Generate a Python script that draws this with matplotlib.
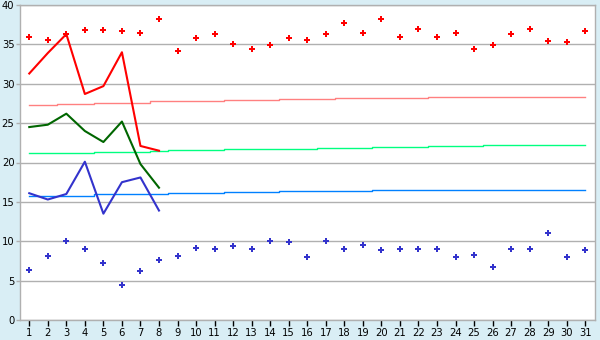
import numpy as np
import matplotlib.pyplot as plt

# Data
days = list(range(1, 32))

max_daily = [35.9, 35.5, 36.3, 36.8, 36.8, 36.7, 36.4, 38.2, 34.1, 35.8,
             36.3, 35.0, 34.4, 34.9, 35.8, 35.6, 36.3, 37.7, 36.5, 38.2,
             36.0, 36.9, 36.0, 36.5, 34.4, 34.9, 36.3, 36.9, 35.4, 35.3, 36.7]
min_daily = [6.3, 8.1, 10.0, 9.0, 7.3, 4.4, 6.2, 7.6, 8.1, 9.2,
             9.0, 9.4, 9.0, 10.0, 9.9, 8.0, 10.0, 9.0, 9.5, 8.85,
             9.0, 9.0, 9.0, 8.0, 8.2, 6.7, 9.0, 9.0, 11.0, 8.0, 8.85]

cur_days = [1, 2, 3, 4, 5, 6, 7, 8]
cur_max = [31.3, 33.9, 36.3, 28.7, 29.7, 34.0, 22.1, 21.5]
cur_mean = [24.5, 24.8, 26.2, 24.0, 22.6, 25.2, 19.8, 16.8]
cur_min = [16.1, 15.3, 16.0, 20.1, 13.5, 17.5, 18.1, 13.9]

normal_max = [27.25, 27.25, 27.38, 27.38, 27.5, 27.5, 27.5, 27.75, 27.75, 27.75,
              27.75, 27.9, 27.9, 27.9, 28.03, 28.03, 28.03, 28.15, 28.15, 28.15,
              28.15, 28.15, 28.28, 28.28, 28.28, 28.28, 28.28, 28.28, 28.28, 28.28, 28.28]
normal_mean = [21.17, 21.17, 21.17, 21.17, 21.3, 21.3, 21.3, 21.42, 21.55, 21.55,
               21.55, 21.68, 21.68, 21.68, 21.68, 21.68, 21.8, 21.8, 21.8, 21.93,
               21.93, 21.93, 22.06, 22.06, 22.06, 22.18, 22.18, 22.18, 22.18, 22.18, 22.18]
normal_min = [15.78, 15.78, 15.78, 15.78, 15.96, 15.96, 15.96, 15.96, 16.09, 16.09,
              16.09, 16.22, 16.22, 16.22, 16.34, 16.34, 16.34, 16.34, 16.34, 16.47,
              16.47, 16.47, 16.47, 16.47, 16.47, 16.47, 16.47, 16.47, 16.47, 16.47, 16.47]

bg = '#D9EEF5'
grid_c = '#B0B0B0'

fig = plt.figure(figsize=(6, 3.4), dpi=100, facecolor=bg)
ax = fig.add_axes([20 / 600, 1 - 320 / 340, 574.5 / 600, 315 / 340])
ax.set_facecolor('white')

# normals (step lines)
ax.plot(days, normal_max, color='#FF8080', lw=1.0, drawstyle='steps-mid', zorder=2)
ax.plot(days, normal_mean, color='#00FF80', lw=1.0, drawstyle='steps-mid', zorder=2)
ax.plot(days, normal_min, color='#0080FF', lw=1.0, drawstyle='steps-mid', zorder=2)

# current month
ax.plot(cur_days, cur_max, color='#FF0000', lw=1.5, zorder=3)
ax.plot(cur_days, cur_mean, color='#006600', lw=1.5, zorder=3)
ax.plot(cur_days, cur_min, color='#3333CC', lw=1.5, zorder=3)

# extremes
ax.plot(days, max_daily, ls='none', marker='P', ms=4.5, color='#FF0000', mew=0, zorder=4)
ax.plot(days, min_daily, ls='none', marker='P', ms=4.2, color='#3333CC', mew=0, zorder=4)

ax.set_xlim(0.5, 31.5)
ax.set_ylim(0, 40)
ax.set_xticks(days)
ax.set_yticks(np.arange(0, 41, 5))
ax.yaxis.grid(True, color=grid_c, lw=1)
ax.set_axisbelow(True)
for s in ax.spines.values():
    s.set_color(grid_c)
    s.set_linewidth(1)
ax.tick_params(axis='x', colors='black', labelsize=7.2, length=4, width=1,
               color='#000000', pad=2)
ax.tick_params(axis='y', colors='black', labelsize=7.2, length=3, width=1,
               color=grid_c, pad=1)

fig.savefig('out.png', dpi=100, facecolor=bg)
